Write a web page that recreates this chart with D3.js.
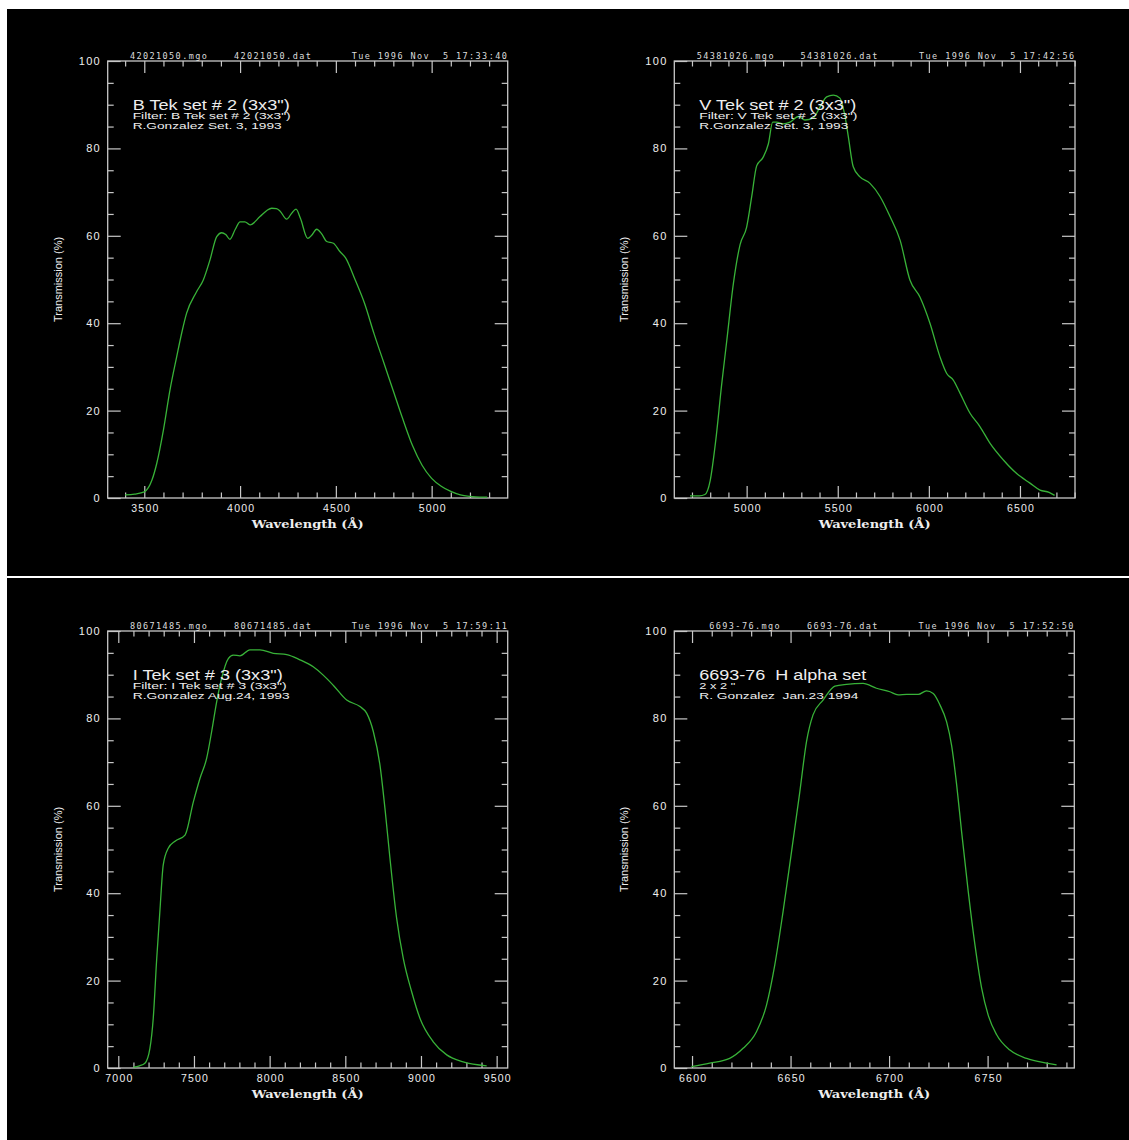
<!DOCTYPE html>
<html><head><meta charset="utf-8">
<script src="https://cdn.jsdelivr.net/npm/d3@7"></script>
<style>body{margin:0;background:#fff;} svg{display:block} text{white-space:pre}</style>
</head><body><svg id="c" width="1129" height="1140"></svg>
<script>
// ---------------- DATA ----------------
const bWavelength = [3400,3450,3500,3540,3565,3600,3634,3669,3695,3721,3773,3808,3843,3878,3904,3925,3947,3975,4000,4025,4052,4104,4140,4165,4190,4208,4243,4270,4292,4315,4353,4375,4400,4425,4452,4487,4521,4550,4600,4650,4700,4750,4800,4850,4900,4950,5000,5050,5100,5150,5200,5250,5290];
const bTransmission = [0.7,0.9,1.4,4.1,7.9,15.6,24.7,32.3,37.7,42.3,47.2,49.9,54.5,59.8,60.7,60.3,59.2,61.5,63.2,63.2,62.5,64.4,65.8,66.3,66.2,65.7,63.8,65.2,66.1,64.0,59.4,60.2,61.5,60.5,58.7,58.3,56.4,55.0,50.0,44.5,37.5,31.0,24.5,18.0,12.0,7.5,4.5,2.7,1.5,0.7,0.35,0.2,0.2];

const vWavelength = [4689,4740,4771,4800,4830,4863,4891,4927,4964,5000,5028,5055,5091,5119,5143,5165,5201,5238,5284,5320,5366,5403,5439,5476,5512,5540,5558,5585,5622,5677,5732,5787,5842,5896,5951,6006,6061,6098,6134,6171,6226,6281,6336,6409,6482,6555,6610,6660,6690];
const vTransmission = [0.5,0.5,0.8,4.0,13.0,26.0,36.0,49.0,58.0,62.0,69.0,76.0,78.0,81.0,86.0,86.0,85.6,86.0,87.3,86.5,87.0,89.5,91.8,92.2,91.5,87.3,82.7,75.8,73.5,72.0,69.0,64.4,59.0,49.9,46.0,40.0,32.3,28.5,27.0,24.0,19.4,16.3,12.5,8.7,5.6,3.4,1.8,1.3,0.6];

const iWavelength = [7099,7140,7176,7209,7231,7254,7276,7297,7330,7375,7441,7496,7540,7584,7617,7650,7683,7727,7760,7804,7870,7936,8024,8113,8200,8288,8354,8420,8509,8597,8641,8685,8729,8762,8795,8839,8883,8938,8993,9081,9170,9279,9434];
const iTransmission = [0.2,0.5,1.1,4.5,11.4,25.1,36.5,46.5,50.3,51.9,53.3,60.9,66.3,70.9,77.0,83.8,89.2,93.7,94.5,94.3,95.7,95.7,94.9,94.6,93.4,91.8,89.9,87.6,84.2,82.7,81.2,77.0,69.3,59.4,48.0,34.3,25.1,17.5,11.4,6.0,3.0,1.4,0.5];

const hWavelength = [6599.7,6609.0,6619.1,6625.9,6632.7,6637.8,6642.0,6646.2,6650.5,6654.7,6658.1,6661.4,6666.5,6672.5,6678.4,6686.8,6693.6,6700.4,6704.6,6708.9,6714.8,6719.0,6722.4,6725.8,6729.2,6731.7,6734.3,6736.8,6740.2,6743.6,6747.0,6750.3,6754.6,6761.3,6769.8,6780.0,6785.0];
const hTransmission = [0.3,1.1,2.2,4.5,8.3,14.4,23.6,35.8,49.5,63.2,74.7,80.8,84.2,87.4,87.8,88.0,86.9,86.1,85.4,85.5,85.5,86.3,85.7,83.1,79.2,73.9,64.8,54.1,40.3,28.1,18.2,12.1,7.6,4.1,2.2,1.1,0.7];

const yTickValues = [0,20,40,60,80,100];
const bXTicks = [3500,4000,4500,5000];
const vXTicks = [5000,5500,6000,6500];
const iXTicks = [7000,7500,8000,8500,9000,9500];
const hXTicks = [6600,6650,6700,6750];

const headerMgo = ["42021050.mgo","54381026.mgo","80671485.mgo","6693-76.mgo"];
const headerDat = ["42021050.dat","54381026.dat","80671485.dat","6693-76.dat"];
const headerDate = ["Tue 1996 Nov  5 17:33:40","Tue 1996 Nov  5 17:42:56","Tue 1996 Nov  5 17:59:11","Tue 1996 Nov  5 17:52:50"];
const titles = ['B Tek set # 2 (3x3")','V Tek set # 2 (3x3")','I Tek set # 3 (3x3")','6693-76  H alpha set'];
const subtitle1 = ['Filter: B Tek set # 2 (3x3")','Filter: V Tek set # 2 (3x3")','Filter: I Tek set # 3 (3x3")','2 x 2 "'];
const subtitle2 = ['R.Gonzalez Set. 3, 1993','R.Gonzalez Set. 3, 1993','R.Gonzalez Aug.24, 1993','R. Gonzalez  Jan.23 1994'];
const xAxisTitle = "Wavelength (Å)";
const yAxisTitle = "Transmission (%)";

// ---------------- LAYOUT ----------------
const layout = [
  {x0:107.7,x1:507.7,y0:61,y1:498,domain:[3309,5397],minorStep:100,mgoX:22.3,tW:157,s1W:158,s2W:149},
  {x0:674.3,x1:1075,y0:61,y1:498,domain:[4603,6802],minorStep:100,mgoX:22.4,tW:157,s1W:158,s2W:149},
  {x0:107.7,x1:507.7,y0:631,y1:1068,domain:[6930,9573],minorStep:100,mgoX:22.3,tW:150,s1W:154,s2W:157},
  {x0:674.3,x1:1074.3,y0:631,y1:1068,domain:[6591,6794],minorStep:10,mgoX:35,tW:167,s1W:36,s2W:159}
];
const series = [
  {w:bWavelength,t:bTransmission,ticks:bXTicks},
  {w:vWavelength,t:vTransmission,ticks:vXTicks},
  {w:iWavelength,t:iTransmission,ticks:iXTicks},
  {w:hWavelength,t:hTransmission,ticks:hXTicks}
];

const FRAME = "#c8c8c8", TXT = "#eeeeee", LINE = "#38b238";

const svg = d3.select("#c");
svg.append("rect").attr("x",7).attr("y",9).attr("width",1122).attr("height",567).attr("fill","#000");
svg.append("rect").attr("x",7).attr("y",578).attr("width",1122).attr("height",562).attr("fill","#000");

function styleAxis(g){
  g.select(".domain").remove();
  g.selectAll(".tick line").attr("stroke",FRAME).attr("stroke-width",1.2);
}

series.forEach((s,i)=>{
  const L = layout[i];
  const x = d3.scaleLinear().domain(L.domain).range([L.x0,L.x1]);
  const y = d3.scaleLinear().domain([0,100]).range([L.y1,L.y0]);
  const g = svg.append("g");

  const minorX = d3.range(Math.ceil(L.domain[0]/L.minorStep)*L.minorStep, L.domain[1], L.minorStep)
      .filter(v=>!s.ticks.includes(v));
  const minorY = d3.range(5,100,5).filter(v=>v%20!==0);

  // bottom axis
  g.append("g").attr("transform",`translate(0,${L.y1})`)
    .call(d3.axisBottom(x).tickValues(minorX).tickSize(-5.5).tickFormat("")).call(styleAxis);
  const bx = g.append("g").attr("transform",`translate(0,${L.y1})`)
    .call(d3.axisBottom(x).tickValues(s.ticks).tickSize(-12).tickPadding(6.5).tickFormat(d3.format("d")));
  styleAxis(bx);
  bx.selectAll("text").attr("fill",TXT).attr("font-family","Liberation Sans, Arial, sans-serif")
    .attr("font-size",10.5).attr("letter-spacing",1.2).attr("dx",0.6);

  // top axis
  g.append("g").attr("transform",`translate(0,${L.y0})`)
    .call(d3.axisTop(x).tickValues(minorX).tickSize(-5.5).tickFormat("")).call(styleAxis);
  g.append("g").attr("transform",`translate(0,${L.y0})`)
    .call(d3.axisTop(x).tickValues(s.ticks).tickSize(-12).tickFormat("")).call(styleAxis);

  // left axis
  g.append("g").attr("transform",`translate(${L.x0},0)`)
    .call(d3.axisLeft(y).tickValues(minorY).tickSize(-6).tickFormat("")).call(styleAxis);
  const ly = g.append("g").attr("transform",`translate(${L.x0},0)`)
    .call(d3.axisLeft(y).tickValues(yTickValues).tickSize(-13).tickPadding(8).tickFormat(d3.format("d")));
  styleAxis(ly);
  ly.selectAll("text").attr("fill",TXT).attr("font-family","Liberation Sans, Arial, sans-serif")
    .attr("font-size",11).attr("letter-spacing",1.3).attr("dx",1.3);

  // right axis
  g.append("g").attr("transform",`translate(${L.x1},0)`)
    .call(d3.axisRight(y).tickValues(minorY).tickSize(-6).tickFormat("")).call(styleAxis);
  g.append("g").attr("transform",`translate(${L.x1},0)`)
    .call(d3.axisRight(y).tickValues(yTickValues.filter(v=>v>0&&v<100)).tickSize(-13).tickFormat("")).call(styleAxis);

  // frame
  g.append("rect").attr("x",L.x0).attr("y",L.y0).attr("width",L.x1-L.x0).attr("height",L.y1-L.y0)
    .attr("fill","none").attr("stroke",FRAME).attr("stroke-width",1.3);

  // curve
  const pts = s.w.map((w,k)=>[w,s.t[k]]);
  g.append("path").datum(pts)
    .attr("d", d3.line().x(d=>x(d[0])).y(d=>y(d[1])).curve(d3.curveMonotoneX))
    .attr("fill","none").attr("stroke",LINE).attr("stroke-width",1.3);

  // header
  const hdr = g.append("g").attr("fill","#dcdcdc").attr("font-family","DejaVu Sans Mono, monospace")
    .attr("font-size",8.5).attr("letter-spacing",1.4);
  hdr.append("text").attr("x",L.x0+L.mgoX).attr("y",L.y0-2).text(headerMgo[i]);
  hdr.append("text").attr("x",L.x0+204.5).attr("y",L.y0-2).attr("text-anchor","end").text(headerDat[i]);
  hdr.append("text").attr("x",L.x1+0.5).attr("y",L.y0-2).attr("text-anchor","end").text(headerDate[i]);

  // titles
  const tx = L.x0+25;
  const tg = g.append("g").attr("fill",TXT).attr("font-family","Liberation Sans, Arial, sans-serif");
  tg.append("text").attr("x",tx).attr("y",L.y0+48.5).attr("font-size",14)
    .attr("textLength",L.tW).attr("lengthAdjust","spacingAndGlyphs").text(titles[i]);
  tg.append("text").attr("x",tx).attr("y",L.y0+58.2).attr("font-size",9)
    .attr("textLength",L.s1W).attr("lengthAdjust","spacingAndGlyphs").text(subtitle1[i]);
  tg.append("text").attr("x",tx).attr("y",L.y0+68.3).attr("font-size",9)
    .attr("textLength",L.s2W).attr("lengthAdjust","spacingAndGlyphs").text(subtitle2[i]);

  // axis titles
  const cx = (L.x0+L.x1)/2;
  g.append("text").attr("x",cx-56).attr("y",L.y1+29.7).attr("fill",TXT)
    .attr("font-family","DejaVu Serif, Liberation Serif, serif").attr("font-weight","bold")
    .attr("font-size",10.5).attr("textLength",112).attr("lengthAdjust","spacingAndGlyphs").text(xAxisTitle);
  const cy = (L.y0+L.y1)/2;
  g.append("text").attr("transform",`translate(${L.x0-46},${cy}) rotate(-90)`)
    .attr("text-anchor","middle").attr("fill",TXT)
    .attr("font-family","Liberation Sans, Arial, sans-serif").attr("font-size",11)
    .text(yAxisTitle);
});
</script>
</body></html>
